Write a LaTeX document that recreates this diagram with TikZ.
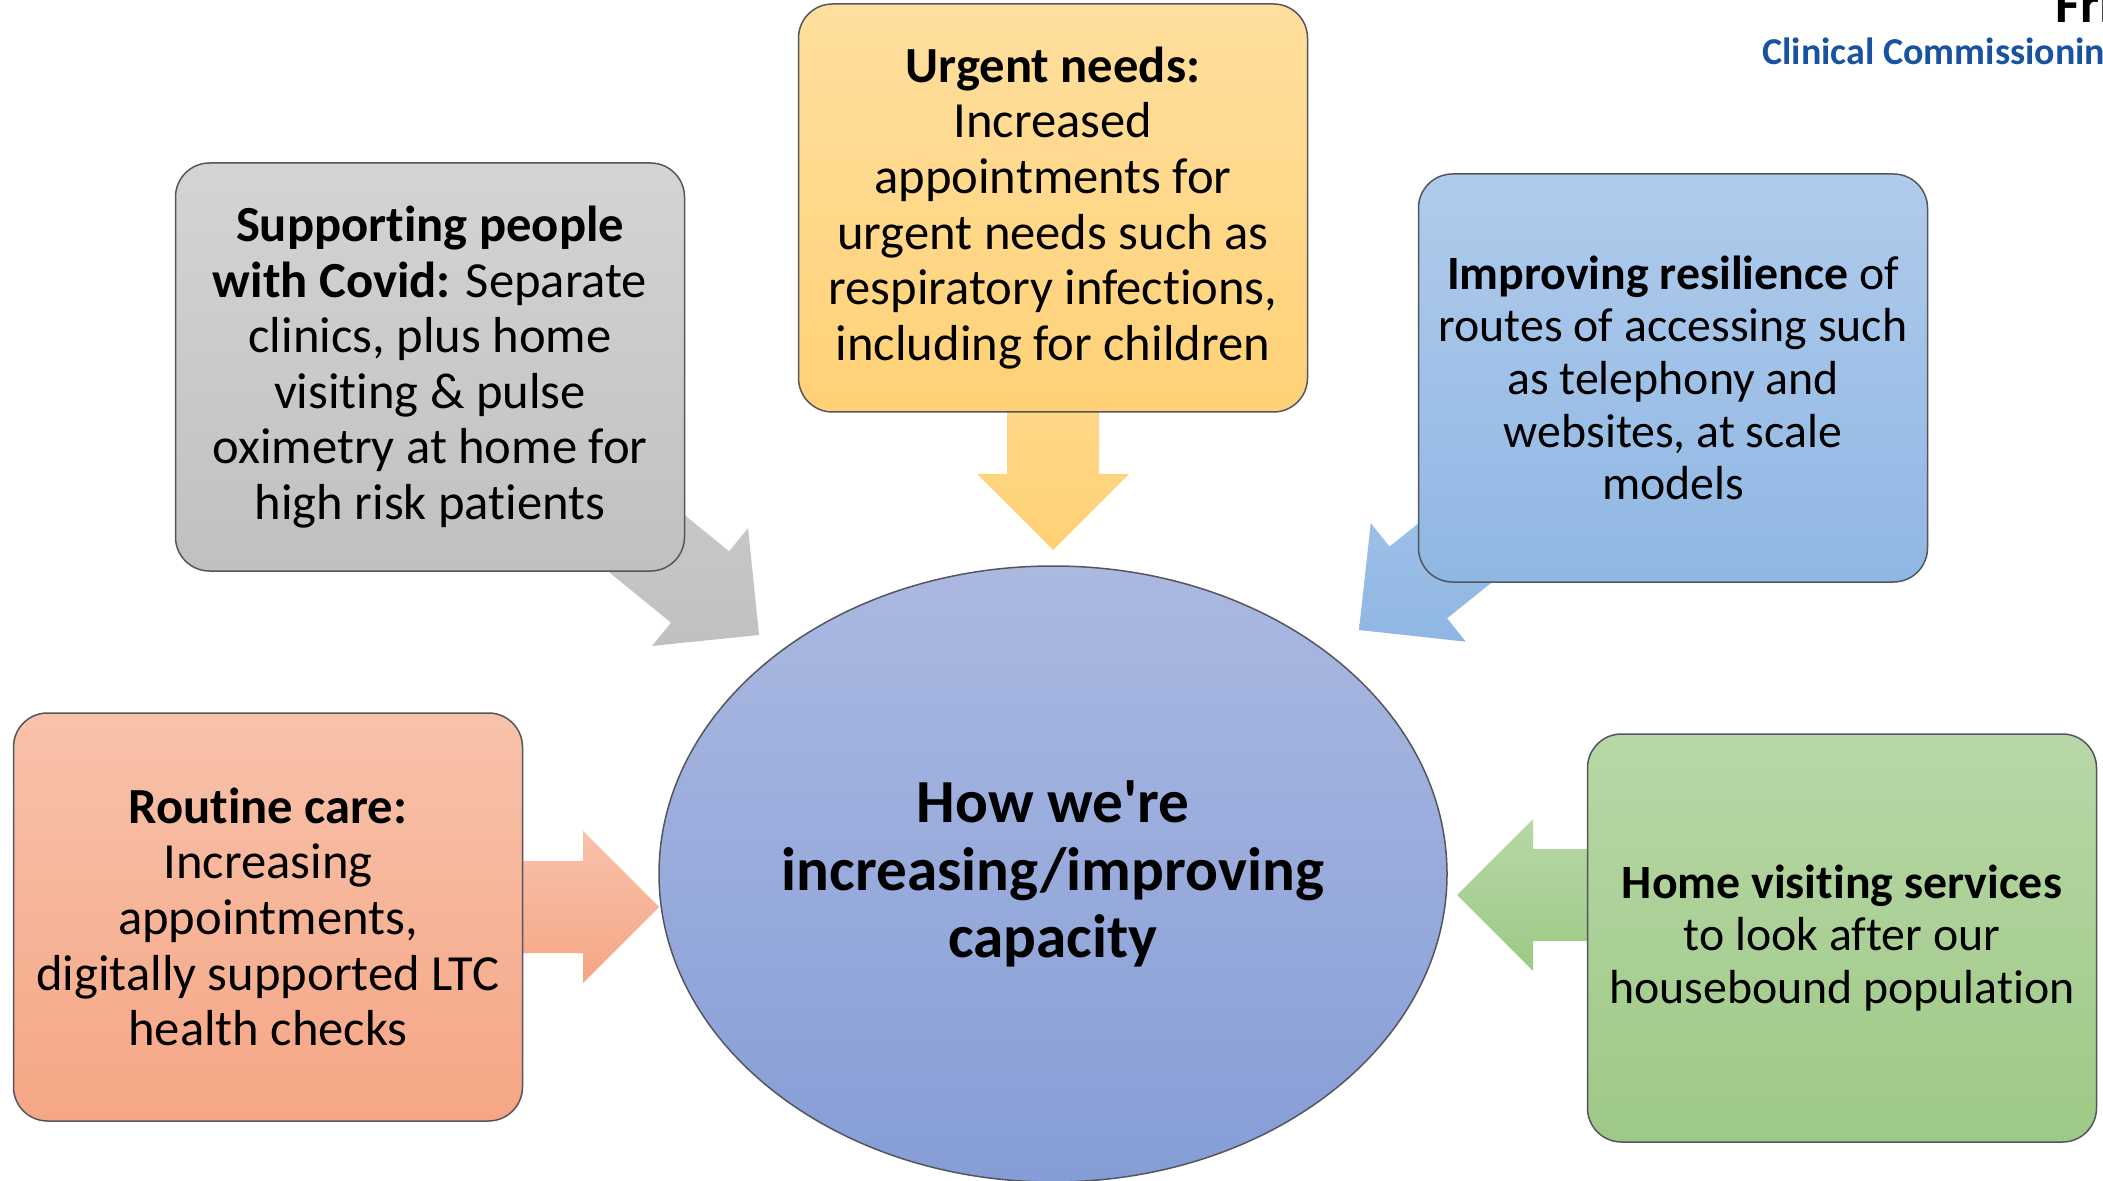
\documentclass[tikz,border=0pt]{standalone}
\usepackage{fontspec}
\setmainfont{Carlito}[Ligatures=NoCommon]
\usetikzlibrary{calc,shapes.geometric,backgrounds}

\definecolor{boxline}{RGB}{85,85,95}
\definecolor{greytop}{RGB}{212,212,212}
\definecolor{greybot}{RGB}{192,192,192}
\definecolor{yellowtop}{RGB}{255,223,158}
\definecolor{yellowbot}{RGB}{255,209,118}
\definecolor{bluetop}{RGB}{176,203,236}
\definecolor{bluebot}{RGB}{143,183,227}
\definecolor{salmontop}{RGB}{248,194,170}
\definecolor{salmonbot}{RGB}{245,166,133}
\definecolor{greentop}{RGB}{184,215,167}
\definecolor{greenbot}{RGB}{158,201,133}
\definecolor{hubtop}{RGB}{171,185,225}
\definecolor{hubbot}{RGB}{133,157,214}
\definecolor{ccgblue}{RGB}{24,82,160}

\tikzset{
  infobox/.style={draw=boxline,line width=0.75pt,rounded corners=17pt,
    minimum width=254.5pt,minimum height=204pt,inner sep=0pt,align=center},
  bigtext/.style={font=\fontsize{25.3}{27.8}\selectfont},
  smalltext/.style={font=\fontsize{23.9}{26.3}\selectfont},
}

% block arrow from #1 to the tip #2, filled with style #3
\newcommand{\blockarrow}[3]{%
  \coordinate (ab) at ($(#2)!38pt!(#1)$);
  \shade[#3] ($(#1)!23pt!90:(#2)$) -- ($(ab)!23pt!90:(#2)$) -- ($(ab)!38pt!90:(#2)$)
    -- (#2) -- ($(ab)!38pt!-90:(#2)$) -- ($(ab)!23pt!-90:(#2)$) -- ($(#1)!23pt!-90:(#2)$) -- cycle;}

\begin{document}
\begin{tikzpicture}[x=0.5pt,y=-0.5pt]
    \path[use as bounding box] (0,0) rectangle (2103,1181);

    % centre
    \node[ellipse,draw=boxline,line width=0.75pt,top color=hubtop,bottom color=hubbot,
      minimum width=394pt,minimum height=308pt,inner sep=0pt,align=center,
      font=\fontsize{30.6}{33.9}\selectfont\bfseries] (hub) at (1053,874)
      {How we\textquotesingle re\\increasing/improving\\capacity};

    % boxes round it
    \node[infobox,bigtext,top color=greytop,bottom color=greybot] (covid) at (430,367)
      {\textbf{Supporting people}\\\textbf{with Covid:} Separate\\clinics, plus home\\visiting \& pulse\\oximetry at home for\\high risk patients};
    \node[infobox,bigtext,top color=yellowtop,bottom color=yellowbot] (urgent) at (1053,208)
      {\textbf{Urgent needs:}\\Increased\\appointments for\\urgent needs such as\\respiratory infections,\\including for children};
    \node[infobox,smalltext,top color=bluetop,bottom color=bluebot] (resil) at (1673,378)
      {\textbf{Improving resilience} of\\routes of accessing such\\as telephony and\\websites, at scale\\models};
    \node[infobox,bigtext,top color=salmontop,bottom color=salmonbot] (routine) at (268,917)
      {\textbf{Routine care:}\\Increasing\\appointments,\\digitally supported LTC\\health checks};
    \node[infobox,smalltext,top color=greentop,bottom color=greenbot] (home) at (1842,938)
      {\textbf{Home visiting services}\\to look after our\\housebound population};

    % arrow tips
    \coordinate (covidtip) at (759,635);
    \coordinate (urgenttip) at (1053,550);
    \coordinate (resiltip) at (1359,630);
    \coordinate (routinetip) at (659,907);
    \coordinate (hometip) at (1457,895);
    \coordinate (routinetail) at (routine.center |- routinetip);
    \coordinate (hometail) at (home.center |- hometip);

    \begin{pgfonlayer}{background}
      \blockarrow{covid.center}{covidtip}{top color=greytop!90!greybot,bottom color=greybot}
      \blockarrow{urgent.center}{urgenttip}{top color=yellowtop,bottom color=yellowbot}
      \blockarrow{resil.center}{resiltip}{top color=bluetop,bottom color=bluebot}
      \blockarrow{routinetail}{routinetip}{top color=salmontop,bottom color=salmonbot}
      \blockarrow{hometail}{hometip}{top color=greentop,bottom color=greenbot}
    \end{pgfonlayer}

    % heading, top right
    \node[anchor=base west,inner sep=0pt,font=\fontsize{27}{27}\selectfont\bfseries] (fri) at (2055,23) {Fri};
    \node[anchor=base west,inner sep=0pt,text=ccgblue,font=\fontsize{19}{19}\selectfont\bfseries] (ccg) at (1762,65) {Clinical Commissioning};
\end{tikzpicture}
\end{document}
